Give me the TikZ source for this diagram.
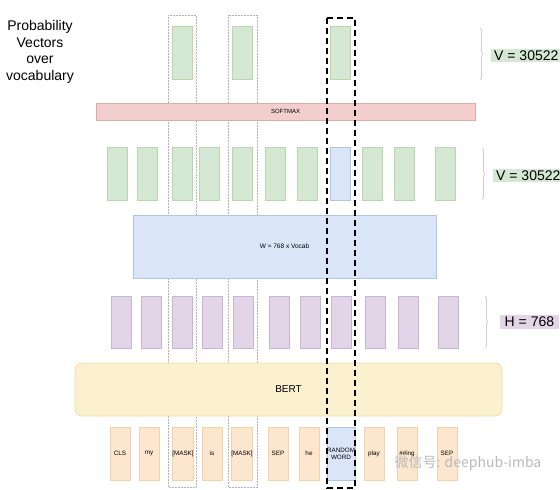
\documentclass[tikz,border=0pt]{standalone}
\usepackage{fontspec}
\setmainfont{Liberation Sans}
\newfontfamily\cjkfont{Noto Sans CJK SC}
\usetikzlibrary{decorations.pathreplacing}
\definecolor{probfill}{HTML}{D5E8D4}
\definecolor{probline}{HTML}{B9D6AE}
\definecolor{softfill}{HTML}{F2CFCD}
\definecolor{softline}{HTML}{E3A9A6}
\definecolor{wfill}{HTML}{DAE6F8}
\definecolor{wline}{HTML}{AFC6EA}
\definecolor{hidfill}{HTML}{E1D5E7}
\definecolor{hidline}{HTML}{C8B5D3}
\definecolor{bertfill}{HTML}{FCF1CF}
\definecolor{bertline}{HTML}{EEDDA6}
\definecolor{tokfill}{HTML}{FCE6CD}
\definecolor{tokline}{HTML}{F2D2AB}

\begin{document}
\begin{tikzpicture}[x=1pt, y=-1pt,
  vec/.style = {draw, line width=0.7pt, minimum width=20pt, minimum height=53pt, inner sep=0pt, font=\fontsize{6.3}{7}\selectfont, align=center},
  prob/.style = {vec, fill=probfill, draw=probline},
  wrd/.style = {vec, fill=wfill, draw=wline},
  hid/.style = {vec, fill=hidfill, draw=hidline},
  tok/.style = {vec, fill=tokfill, draw=tokline},
  frame/.style = {draw=gray!60, line width=0.5pt, densely dotted},
  pick/.style = {draw=black, line width=2pt, dash pattern=on 6pt off 4pt},
  brace/.style = {draw=gray!40, line width=0.7pt, decorate, decoration={brace, amplitude=3pt}},
  lbl/.style = {font=\fontsize{14}{14}\selectfont, inner xsep=3pt, inner ysep=2pt, anchor=west}]

    \useasboundingbox (0,0) rectangle (560,490);

    % masked columns
    \draw[frame] (168,15) rectangle (196,487);
    \draw[frame] (228,15) rectangle (257,487);

    % caption
    \node[align=center, font=\fontsize{14}{16.5}\selectfont] (cap) at (40,52) {Probability\\Vectors\\over\\vocabulary};

    % probability vectors
    \foreach \x [count=\i] in {182.7, 242, 340}
        \node[prob] (p\i) at (\x,53) {};

    % softmax
    \node[draw=softline, fill=softfill, line width=0.7pt, minimum width=379pt, minimum height=17pt, inner sep=0pt, font=\fontsize{6}{7}\selectfont] (soft) at (285.5,111.5) {SOFTMAX};

    % logits
    \foreach \x/\sty [count=\i] in {117/prob, 147/prob, 182/prob, 209/prob, 242/prob, 275/prob, 307/prob, 340/wrd, 372/prob, 404/prob, 445/prob}
        \node[\sty] (l\i) at (\x,173.5) {};

    % output layer
    \node[draw=wline, fill=wfill, line width=0.7pt, minimum width=303pt, minimum height=63pt, inner sep=0pt, font=\fontsize{6.5}{7}\selectfont] (wout) at (284.5,246.5) {W = 768 x Vocab};

    % hidden states
    \foreach \x [count=\i] in {121, 151, 182, 212, 243, 279, 310, 341, 375, 408, 448}
        \node[hid, minimum height=52pt] (h\i) at (\x,322) {};

    % encoder
    \node[draw=bertline, fill=bertfill, line width=0.7pt, rounded corners=7pt, minimum width=427pt, minimum height=53pt, inner sep=0pt, font=\fontsize{10}{12}\selectfont] (bert) at (288.5,389.5) {BERT};

    % input tokens
    \foreach \x/\txt/\sty [count=\i] in {120/CLS/tok, 149/my/tok, 183/{[MASK]}/tok, 212/is/tok, 242/{[MASK]}/tok, 278/SEP/tok, 309/he/tok, 341/{RANDOM\\WORD}/wrd, 374/play/tok, 407/\#\#ing/tok, 447/SEP/tok}
        \node[\sty] (t\i) at (\x,453.5) {\txt};

    % chosen column
    \draw[pick] (327,18) rectangle (355,488);

    % sizes
    \draw[brace] (480,28) -- (480,80);
    \draw[brace] (482,148) -- (482,200);
    \draw[brace] (485,296) -- (485,348);
    \node[lbl, fill=probfill] (vtop) at (491,55.5) {V = 30522};
    \node[lbl, fill=probfill] (vmid) at (493,175.5) {V = 30522};
    \node[lbl, fill=hidfill, inner xsep=4.5pt] (hsize) at (500,322) {H = 768};

    \node[text=gray!55, font=\cjkfont\fontsize{14}{14}\selectfont] (wm) at (468,463) {微信号: deephub-imba};

\end{tikzpicture}
\end{document}
